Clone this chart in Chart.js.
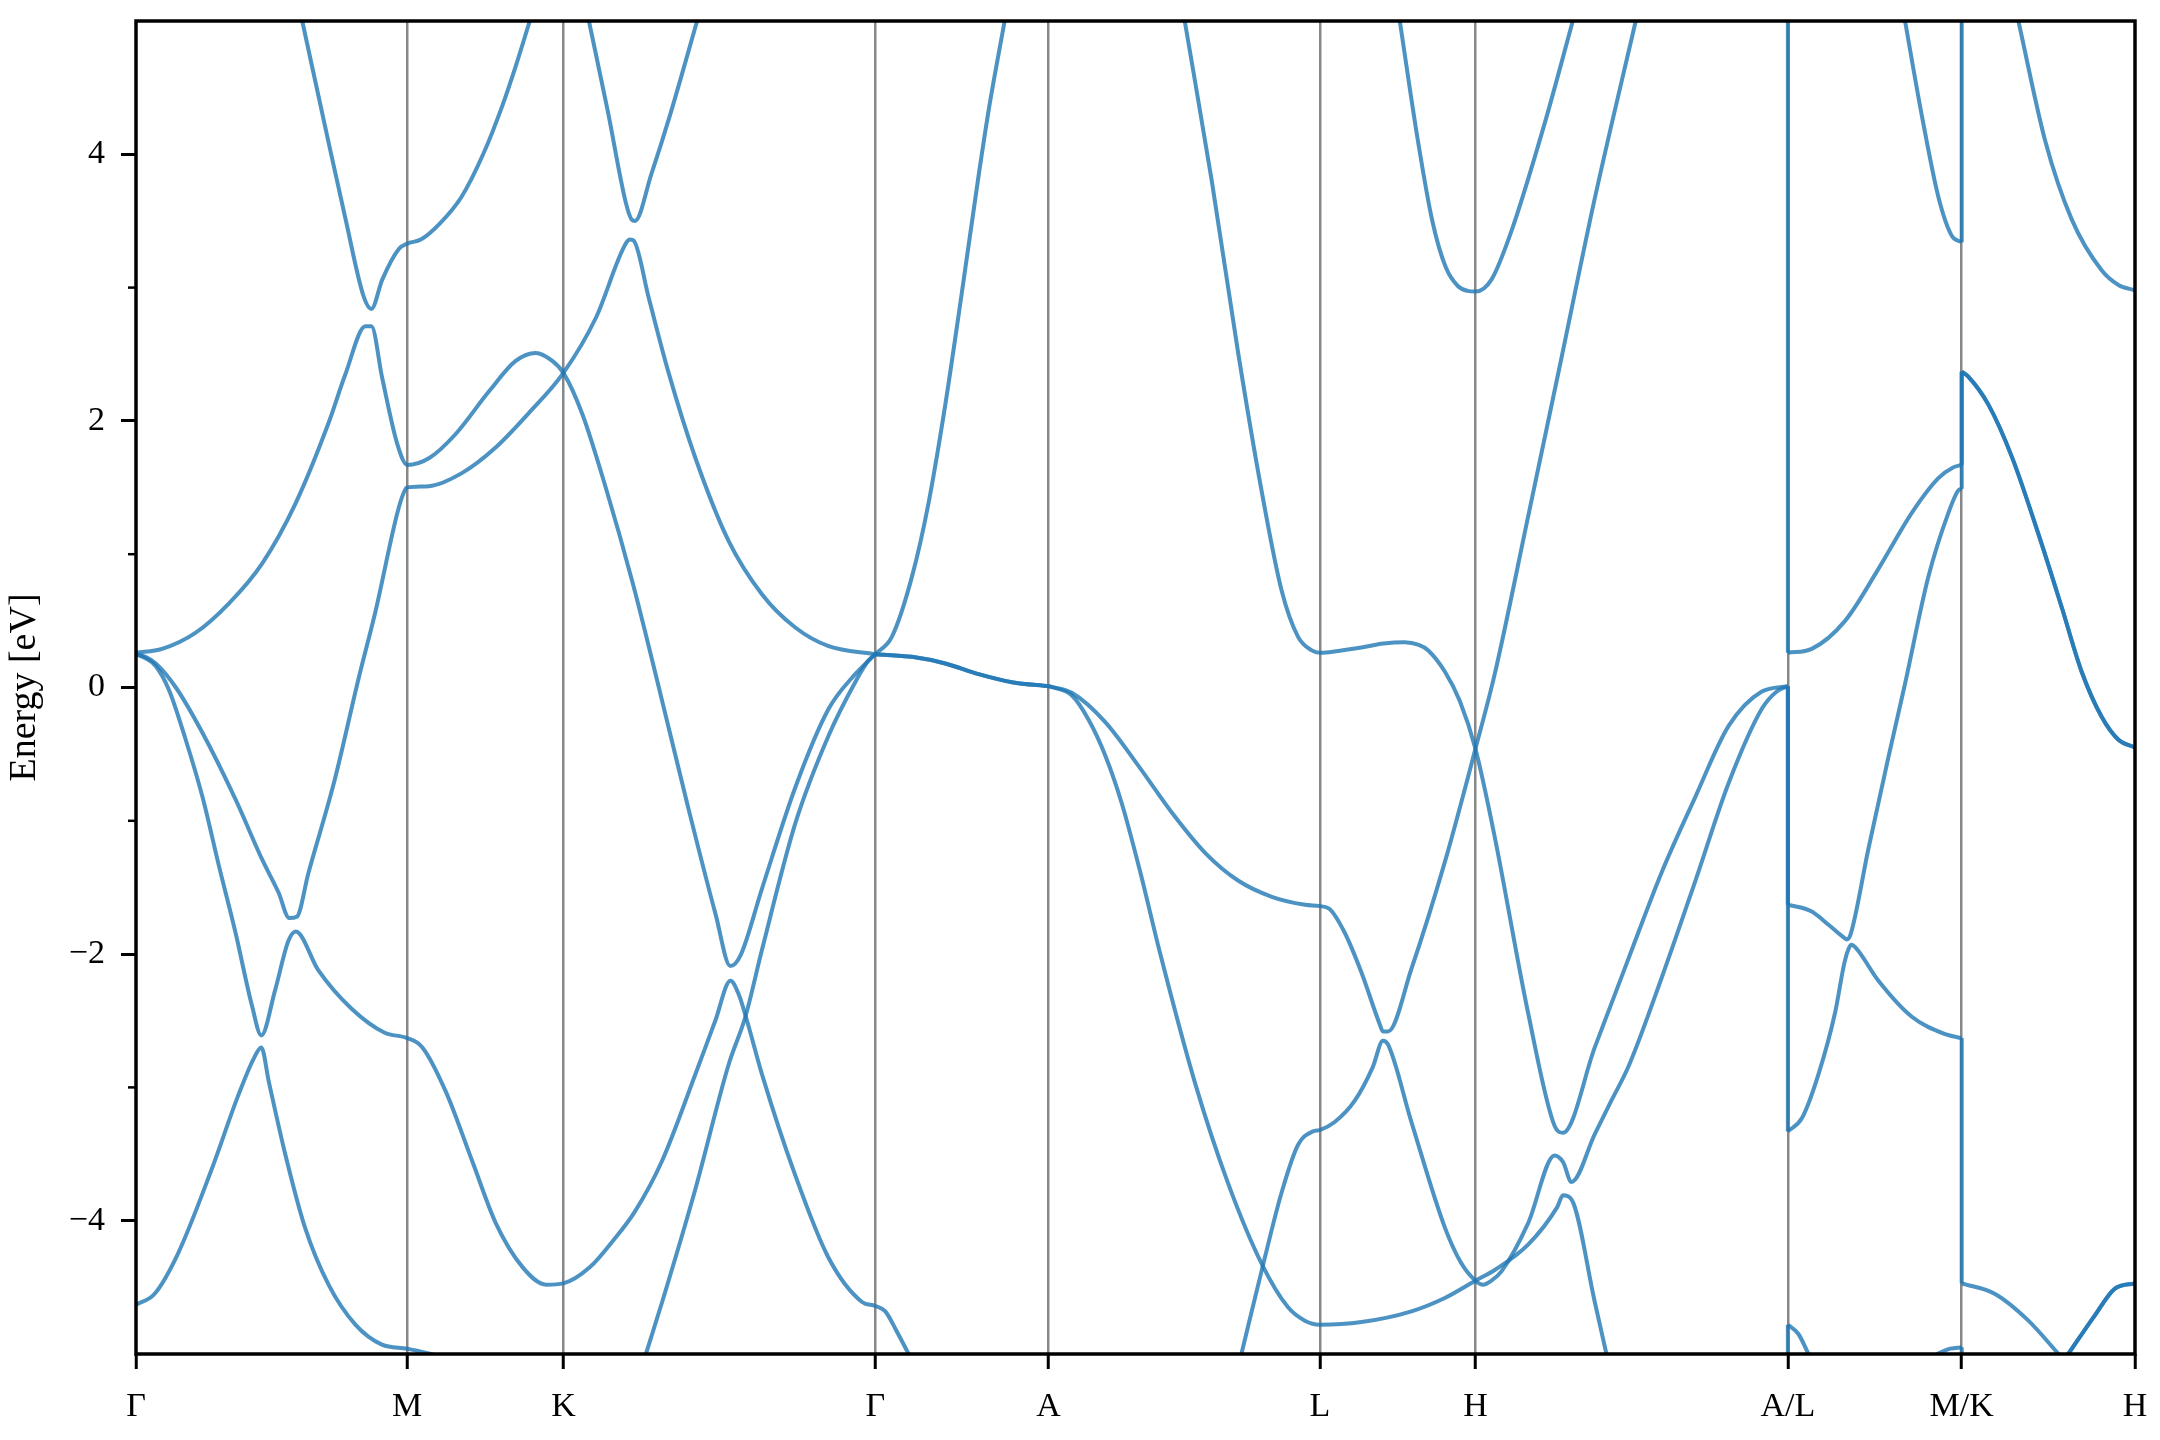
<!DOCTYPE html>
<html>
<head>
<meta charset="utf-8">
<title>Band structure</title>
<script src="https://cdn.jsdelivr.net/npm/chart.js@4.4.1/dist/chart.umd.min.js"></script>
<style>
  html, body { margin: 0; padding: 0; background: #fff; }
  #wrap { width: 2160px; height: 1440px; }
</style>
</head>
<body>
<div id="wrap"><canvas id="chart" width="2160" height="1440"></canvas></div>
<script>
// k-path: high symmetry points and their labels
const kTicks = [0, 1.0, 1.576, 2.726, 3.365, 4.365, 4.939, 6.091, 6.732, 7.371];
const kLabels = ['Γ', 'M', 'K', 'Γ', 'A', 'L', 'H', 'A/L', 'M/K', 'H'];
const yTicks = [-4, -2, 0, 2, 4];
const yMinor = [-3, -1, 1, 3];

// bands, [k, E]
const upperGM = [[0.613,5.0],[0.711,4.08],[0.772,3.52],[0.840,2.93],[0.868,2.84],[0.908,3.06],[0.969,3.29],[1.0,3.33],[1.05,3.36],[1.12,3.48],[1.2,3.68],[1.28,4.0],[1.35,4.36],[1.4,4.66],[1.452,5.0]];
const bandB = [[0,0.26],[0.096,0.29],[0.219,0.41],[0.342,0.63],[0.465,0.93],[0.588,1.38],[0.711,1.99],[0.772,2.35],[0.846,2.71],[0.868,2.71],[0.908,2.32],[0.963,1.83],[1.0,1.67],[1.08,1.72],[1.178,1.9],[1.301,2.22],[1.4,2.45],[1.474,2.51],[1.535,2.45],[1.576,2.36],[1.646,2.05],[1.732,1.5],[1.832,0.78],[1.934,-0.05],[2.036,-0.9],[2.137,-1.7],[2.192,-2.09],[2.229,-2.01],[2.308,-1.51],[2.431,-0.75],[2.554,-0.16],[2.652,0.1],[2.726,0.25]];
const bandC = [[0,0.25],[0.035,0.23],[0.073,0.18],[0.147,0.0],[0.245,-0.34],[0.367,-0.84],[0.465,-1.29],[0.526,-1.54],[0.565,-1.73],[0.593,-1.72],[0.636,-1.39],[0.733,-0.69],[0.821,0.07],[0.883,0.57],[0.969,1.35],[0.994,1.49],[1.0,1.5],[1.08,1.51],[1.203,1.61],[1.326,1.8],[1.449,2.06],[1.576,2.36],[1.695,2.77],[1.806,3.33],[1.822,3.36],[1.836,3.35],[1.891,2.92],[1.964,2.36],[2.063,1.72],[2.185,1.1],[2.308,0.7],[2.431,0.45],[2.554,0.31],[2.726,0.25]];
const bandD = [[1.67,5.0],[1.74,4.32],[1.807,3.63],[1.828,3.51],[1.84,3.5],[1.9,3.85],[1.97,4.3],[2.069,5.0]];
const bandSteep = [[0,0.25],[0.035,0.22],[0.073,0.16],[0.122,-0.02],[0.183,-0.39],[0.245,-0.82],[0.306,-1.34],[0.367,-1.84],[0.428,-2.39],[0.462,-2.61],[0.513,-2.27],[0.562,-1.9],[0.589,-1.83],[0.672,-2.12],[0.795,-2.41],[0.917,-2.59],[1.0,-2.63],[1.056,-2.7],[1.142,-3.03],[1.241,-3.56],[1.327,-4.02],[1.426,-4.35],[1.512,-4.48],[1.576,-4.47],[1.673,-4.35],[1.759,-4.15],[1.84,-3.93],[1.94,-3.55],[2.063,-2.9],[2.136,-2.5],[2.192,-2.2],[2.222,-2.3],[2.253,-2.5],[2.308,-2.9],[2.431,-3.66],[2.554,-4.28],[2.677,-4.61],[2.726,-4.64],[2.763,-4.68],[2.8,-4.81],[2.849,-5.0]];
const bandLow = [[0,-4.63],[0.068,-4.55],[0.154,-4.25],[0.278,-3.62],[0.377,-3.06],[0.435,-2.78],[0.462,-2.7],[0.49,-2.96],[0.549,-3.49],[0.623,-4.05],[0.71,-4.48],[0.809,-4.78],[0.907,-4.93],[1.0,-4.96],[1.13,-5.02]];
const bandF = [[1.88,-5.0],[1.94,-4.61],[2.063,-3.76],[2.185,-2.83],[2.247,-2.47],[2.308,-1.97],[2.431,-1.02],[2.554,-0.36],[2.652,0.04],[2.7,0.2],[2.726,0.25]];
const flatGA = [[2.726,0.25],[2.861,0.23],[2.984,0.18],[3.107,0.1],[3.23,0.04],[3.365,0.01]];
const steepGA = [[2.726,0.25],[2.787,0.38],[2.861,0.83],[2.922,1.38],[2.984,2.12],[3.045,2.96],[3.107,3.84],[3.144,4.33],[3.203,5.0]];
const aToL1 = [[3.365,0.01],[3.451,-0.04],[3.574,-0.26],[3.697,-0.59],[3.82,-0.94],[3.942,-1.24],[4.065,-1.45],[4.188,-1.57],[4.311,-1.63],[4.365,-1.64],[4.4,-1.66],[4.457,-1.84],[4.519,-2.14],[4.585,-2.52],[4.598,-2.58],[4.617,-2.58],[4.703,-2.11],[4.826,-1.31],[4.939,-0.46],[5.01,0.1],[5.133,1.28],[5.256,2.47],[5.378,3.66],[5.53,5.0]];
const aToL2 = [[3.365,0.01],[3.451,-0.06],[3.512,-0.24],[3.574,-0.51],[3.635,-0.87],[3.7,-1.36],[3.777,-2.0],[3.904,-2.96],[4.027,-3.72],[4.15,-4.32],[4.248,-4.65],[4.31,-4.75],[4.365,-4.78],[4.519,-4.76],[4.703,-4.68],[4.826,-4.58],[4.939,-4.45],[5.01,-4.37],[5.133,-4.18],[5.24,-3.9],[5.262,-3.81],[5.293,-3.84],[5.379,-4.61],[5.422,-5.0]];
const crossL = [[4.076,-5.0],[4.15,-4.38],[4.224,-3.79],[4.285,-3.43],[4.34,-3.33],[4.365,-3.32],[4.42,-3.26],[4.494,-3.1],[4.56,-2.85],[4.598,-2.65],[4.617,-2.68],[4.703,-3.26],[4.826,-4.05],[4.887,-4.32],[4.939,-4.45],[4.967,-4.48],[4.998,-4.45],[5.035,-4.38],[5.133,-4.02],[5.231,-3.51],[5.262,-3.56],[5.293,-3.71],[5.379,-3.35],[5.44,-3.1],[5.504,-2.84],[5.627,-2.17],[5.75,-1.45],[5.872,-0.72],[5.995,-0.16],[6.05,-0.03],[6.091,0.01]];
const topL = [[3.867,5.0],[3.966,3.81],[4.064,2.51],[4.15,1.48],[4.224,0.73],[4.285,0.38],[4.334,0.28],[4.365,0.26],[4.45,0.28],[4.519,0.3],[4.6,0.33],[4.678,0.34],[4.73,0.32],[4.764,0.28],[4.826,0.12],[4.881,-0.1],[4.939,-0.46],[5.01,-1.12],[5.133,-2.44],[5.231,-3.29],[5.262,-3.34],[5.379,-2.7],[5.504,-2.03],[5.627,-1.38],[5.75,-0.82],[5.872,-0.29],[5.995,-0.03],[6.091,0.01]];
const topH = [[4.66,5.0],[4.727,4.1],[4.78,3.5],[4.83,3.15],[4.875,3.01],[4.91,2.975],[4.939,2.97],[4.998,3.06],[5.071,3.42],[5.194,4.23],[5.298,5.0]];
const lm1 = [[6.091,0.26],[6.179,0.29],[6.302,0.5],[6.425,0.89],[6.548,1.31],[6.646,1.57],[6.7,1.65],[6.732,1.67]];
const lm2 = [[6.091,-1.63],[6.179,-1.68],[6.241,-1.78],[6.3,-1.88],[6.308,-1.89],[6.321,-1.86],[6.388,-1.21],[6.462,-0.52],[6.52,0.0],[6.609,0.83],[6.683,1.31],[6.72,1.48],[6.732,1.49]];
const lm3 = [[6.091,-3.33],[6.143,-3.23],[6.204,-2.9],[6.265,-2.44],[6.3,-2.06],[6.315,-1.96],[6.325,-1.93],[6.34,-1.95],[6.425,-2.2],[6.548,-2.47],[6.671,-2.6],[6.732,-2.63]];
const lm4 = [[6.091,-4.78],[6.13,-4.85],[6.167,-5.0]];
const lmTop = [[6.523,5.0],[6.585,4.29],[6.646,3.68],[6.695,3.39],[6.732,3.34]];
const lmBottom = [[6.64,-5.0],[6.69,-4.96],[6.732,-4.95]];
const kh1 = [[6.732,2.37],[6.757,2.33],[6.831,2.12],[6.917,1.73],[7.015,1.15],[7.101,0.6],[7.174,0.12],[7.248,-0.22],[7.309,-0.39],[7.371,-0.45]];
const khTop = [[6.941,5.0],[7.04,4.1],[7.138,3.51],[7.248,3.13],[7.31,3.02],[7.371,2.98]];
const khLow1 = [[6.732,-4.47],[6.855,-4.55],[6.978,-4.75],[7.089,-5.0]];
const khLow2 = [[7.125,-5.0],[7.223,-4.71],[7.297,-4.51],[7.371,-4.47]];

// jumps at the path breaks: [k, E from, E to]
const jumps = [[6.091,0.26,5.3],[6.091,0.01,-1.63],[6.091,0.01,-3.33],[6.091,-4.78,-5.3],[6.732,3.34,5.3],[6.732,1.67,2.37],[6.732,1.49,2.37],[6.732,-2.63,-4.47],[6.732,-4.95,-5.3]];

const bands = [upperGM, bandB, bandC, bandD, bandSteep, bandLow, bandF, flatGA, steepGA,
  aToL1, aToL2, crossL, topL, topH, lm1, lm2, lm3, lm4, lmTop, lmBottom, kh1, khTop, khLow1, khLow2];
// degenerate pairs show up darker, draw them twice
const degenerate = [flatGA, kh1, khLow2];

const bandColor = 'rgba(31,119,180,0.8)';

function bandLine(points, smooth) {
  return {
    data: points.map(p => ({ x: p[0], y: p[1] })),
    showLine: true,
    pointRadius: 0,
    borderColor: bandColor,
    borderWidth: 4,
    cubicInterpolationMode: smooth ? 'monotone' : 'default',
    tension: 0,
    clip: 0
  };
}

const datasets = [];
jumps.forEach(j => datasets.push(bandLine([[j[0], j[1]], [j[0], j[2]]], false)));
bands.forEach(b => datasets.push(bandLine(b, true)));
degenerate.forEach(b => datasets.push(bandLine(b, true)));

const frame = {
  id: 'frame',
  afterDraw(chart) {
    const { ctx, chartArea: a } = chart;
    const y = chart.scales.y;
    ctx.save();
    ctx.strokeStyle = '#000';
    ctx.lineWidth = 2.5;
    yMinor.forEach(v => {
      const py = y.getPixelForValue(v);
      ctx.beginPath();
      ctx.moveTo(a.left - 8, py);
      ctx.lineTo(a.left, py);
      ctx.stroke();
    });
    ctx.lineWidth = 3.5;
    ctx.strokeRect(a.left, a.top, a.right - a.left, a.bottom - a.top);
    ctx.restore();
  }
};

const serif = "'Liberation Serif', 'DejaVu Serif', serif";

new Chart(document.getElementById('chart'), {
  type: 'scatter',
  data: { datasets },
  options: {
    responsive: false,
    devicePixelRatio: 1,
    animation: false,
    layout: { padding: { top: 21, right: 25, bottom: 0, left: 0 } },
    plugins: { legend: { display: false }, tooltip: { enabled: false } },
    scales: {
      x: {
        type: 'linear',
        min: 0,
        max: kTicks[kTicks.length - 1],
        afterBuildTicks: s => { s.ticks = kTicks.map(v => ({ value: v })); },
        afterFit: s => { s.height = 86; s.paddingLeft = 0; s.paddingRight = 0; },
        ticks: {
          autoSkip: false,
          maxRotation: 0,
          padding: 18,
          color: '#000',
          font: { family: serif, size: 34 },
          callback: (v, i) => kLabels[i]
        },
        grid: {
          color: c => (c.index === 0 || c.index === kTicks.length - 1) ? 'rgba(0,0,0,0)' : '#888888',
          lineWidth: 2.5,
          tickColor: '#000',
          tickLength: 15,
          tickWidth: 3
        },
        border: { display: false }
      },
      y: {
        min: -5,
        max: 5,
        afterBuildTicks: s => { s.ticks = yTicks.map(v => ({ value: v })); },
        afterFit: s => { s.width = 136; s.paddingTop = 0; s.paddingBottom = 0; },
        ticks: {
          padding: 16,
          color: '#000',
          font: { family: serif, size: 34 },
          callback: v => (v < 0 ? '\u2212' + Math.abs(v) : String(v))
        },
        grid: {
          drawOnChartArea: false,
          tickColor: '#000',
          tickLength: 15,
          tickWidth: 3
        },
        border: { display: false },
        title: {
          display: true,
          text: 'Energy [eV]',
          color: '#000',
          font: { family: serif, size: 38 },
          padding: { top: 2, bottom: 0 }
        }
      }
    }
  },
  plugins: [frame]
});
</script>
</body>
</html>
